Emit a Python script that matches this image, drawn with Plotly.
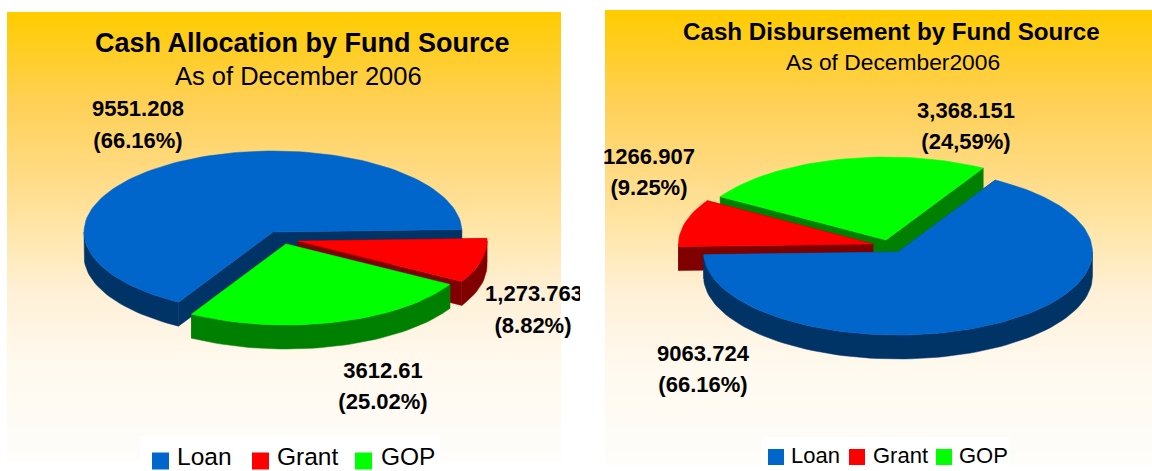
import math
import plotly.graph_objects as go

categories = ["Loan", "Grant", "GOP"]
alloc_values = [9551.208, 1273.763, 3612.61]
disb_values = [9063.724, 1266.907, 3368.151]
alloc_labels = [["9551.208", "(66.16%)"], ["1,273.763", "(8.82%)"], ["3612.61", "(25.02%)"]]
disb_labels = [["9063.724", "(66.16%)"], ["1266.907", "(9.25%)"], ["3,368.151", "(24,59%)"]]
top_colors = ["#0066CC", "#FF0000", "#00FF00"]
side_colors = ["#003366", "#800000", "#008000"]
gradient_stops = [(0.0, (255, 204, 0)), (0.195, (255, 208, 85)), (0.35, (255, 218, 130)),
                  (0.485, (255, 230, 170)), (0.62, (255, 240, 215)), (0.775, (255, 249, 238)),
                  (1.0, (254, 253, 250))]

W, H, SPLIT = 1152, 471, 580
fig = go.Figure()


def rim(cx, cy, rx, ry, a0, a1):
    n = max(2, int(abs(a1 - a0) / 2))
    out = []
    for i in range(n + 1):
        t = math.radians(a0 + (a1 - a0) * i / n)
        out.append((cx + rx * math.cos(t), cy - ry * math.sin(t)))
    return out


def poly(pts, color, xa, width=0.5):
    fig.add_trace(go.Scatter(x=[p[0] for p in pts], y=[p[1] for p in pts], xaxis=xa, yaxis="y",
                             mode="lines", fill="toself", fillcolor=color,
                             line=dict(color=color, width=width), showlegend=False, hoverinfo="skip"))


def visible_arc(a0, a1):
    # part of a clockwise arc (a0 > a1) on the near half of the ellipse
    for k in (0, -360, 360):
        lo, hi = -180 + k, 0 + k
        s, e = min(a0, hi), max(a1, lo)
        if s > e:
            return s, e
    return None


def draw_pie(values, start, centers, rx, ry, depth, order, xa):
    total = sum(values)
    angs = [start]
    for v in values:
        angs.append(angs[-1] - 360 * v / total)
    for i in order:
        cx, cy = centers[i]
        edge = rim(cx, cy, rx, ry, angs[i], angs[i + 1])
        for ex, ey in (edge[0], edge[-1]):
            poly([(cx, cy), (ex, ey), (ex, ey + depth), (cx, cy + depth), (cx, cy)], side_colors[i], xa)
        arc = visible_arc(angs[i], angs[i + 1])
        if arc:
            r = rim(cx, cy, rx, ry, arc[0], arc[1])
            poly(r + [(x, y + depth) for x, y in reversed(r)] + [r[0]], side_colors[i], xa)
        poly([(cx, cy)] + edge + [(cx, cy)], top_colors[i], xa)


def gradient(x0, x1, y0, y1, shapes):
    step = 3
    y = y0
    while y < y1:
        f = (y - y0) / (y1 - y0)
        for (f0, c0), (f1, c1) in zip(gradient_stops[:-1], gradient_stops[1:]):
            if f <= f1:
                u = (f - f0) / (f1 - f0)
                rgb = [round(a + (b - a) * u) for a, b in zip(c0, c1)]
                break
        shapes.append(dict(type="rect", xref="x" if x0 < SPLIT else "x2", yref="y", x0=x0, x1=x1,
                           y0=y, y1=min(y + step, y1), fillcolor=f"rgb({rgb[0]},{rgb[1]},{rgb[2]})",
                           line_width=0, layer="below"))
        y += step


def labels(rows, xa, size):
    for text, x, y in rows:
        fig.add_trace(go.Scatter(x=[x], y=[y], xaxis=xa, yaxis="y", mode="text", text=[f"<b>{text}</b>"],
                                 textposition="middle center", cliponaxis=True,
                                 textfont=dict(family="Liberation Sans", size=size, color="#000000"),
                                 showlegend=False, hoverinfo="skip"))


shapes = []
gradient(7, 561, 12, 462, shapes)
gradient(605, 1152, 10, 465, shapes)
shapes.append(dict(type="rect", xref="x", yref="y", x0=140, x1=440, y0=436, y1=471,
                   fillcolor="white", line_width=0, layer="below"))
shapes.append(dict(type="rect", xref="x2", yref="y", x0=762, x1=1009, y0=437, y1=471,
                   fillcolor="white", line_width=0, layer="below"))

draw_pie(alloc_values, 240, [(273, 232), (298, 241), (286, 244)], 189, 81, 24, [0, 1, 2], "x")
draw_pie(disb_values, 60, [(898, 252), (873, 244), (886, 240)], 194.5, 83, 24, [2, 1, 0], "x2")

labels([(alloc_labels[0][0], 138, 110), (alloc_labels[0][1], 138, 142),
        (alloc_labels[1][0], 534, 295), (alloc_labels[1][1], 533, 327),
        (alloc_labels[2][0], 383, 372), (alloc_labels[2][1], 383, 403)], "x", 22)
labels([(disb_labels[0][0], 703, 355), (disb_labels[0][1], 703, 386),
        (disb_labels[1][0], 649, 158), (disb_labels[1][1], 649, 189),
        (disb_labels[2][0], 966, 112), (disb_labels[2][1], 966, 143)], "x2", 22)

ann = [(302, 43, "<b>Cash Allocation by Fund Source</b>", 27),
       (298, 76, "As of December 2006", 25.5),
       (891, 31, "<b>Cash Disbursement by Fund Source</b>", 24.2),
       (893, 62, "As of December2006", 22.8)]
annotations = [dict(x=x, y=y, xref="x" if x < SPLIT else "x2", yref="y", text=t, showarrow=False,
                    font=dict(family="Liberation Sans", size=s, color="#000000")) for x, y, t, s in ann]

# legends, drawn as marker plus name
leg_left = [(160.5, 461, 174.5), (260.5, 461, 274.5), (363.5, 461, 379)]
leg_right = [(776, 457, 789), (857, 457, 871), (944, 457, 957)]
for (leg, xa, size, fs, ty) in [(leg_left, "x", 17, 24.5, 456.5), (leg_right, "x2", 16, 22, 455)]:
    for i, (mx, y, tx) in enumerate(leg):
        fig.add_trace(go.Scatter(x=[mx], y=[y], xaxis=xa, yaxis="y", mode="markers",
                                 marker=dict(symbol="square", size=size, color=top_colors[i]),
                                 showlegend=False, hoverinfo="skip"))
        annotations.append(dict(x=tx, y=ty, xref=xa, yref="y", text=categories[i], showarrow=False,
                                xanchor="left", font=dict(family="Liberation Sans", size=fs, color="#000000")))

ax = dict(visible=False, fixedrange=True)
fig.update_layout(
    width=W, height=H, margin=dict(l=0, r=0, t=0, b=0), autosize=False,
    paper_bgcolor="white", plot_bgcolor="rgba(0,0,0,0)", showlegend=False,
    xaxis=dict(domain=[0, SPLIT / W], range=[0, SPLIT], **ax),
    xaxis2=dict(domain=[SPLIT / W, 1], range=[SPLIT, W], **ax),
    yaxis=dict(domain=[0, 1], range=[H, 0], **ax),
    shapes=shapes, annotations=annotations,
)
fig.write_html("out.html", config=dict(displayModeBar=False),
               post_script="document.body.style.margin='0';document.body.style.overflow='hidden';")
